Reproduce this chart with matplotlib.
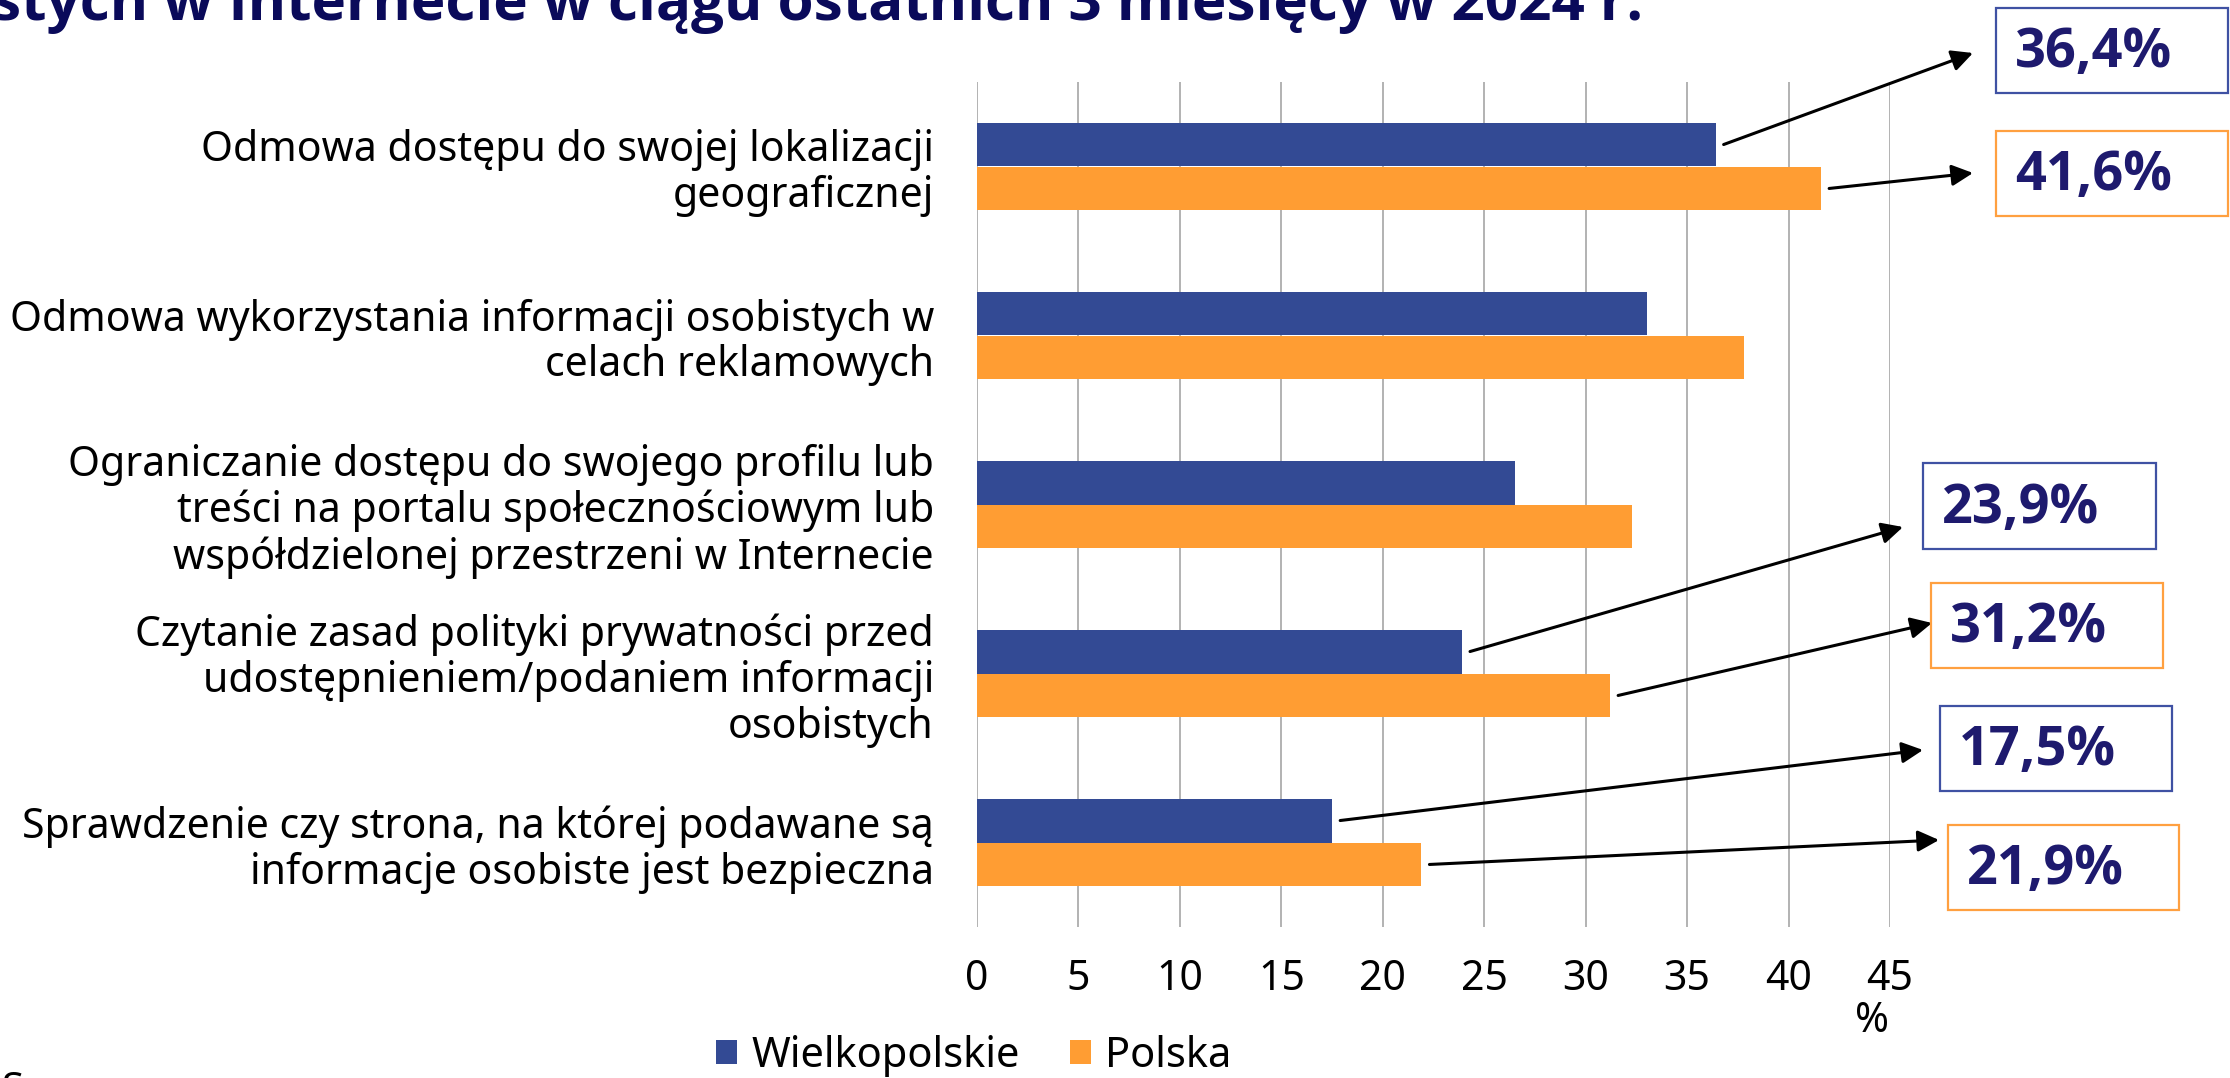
import matplotlib
matplotlib.use('Agg')
import matplotlib.pyplot as plt
from matplotlib.patches import Patch, Rectangle

plt.rcParams['font.family'] = ['Noto Sans', 'DejaVu Sans']
BOLD_FONT = ['Open Sans', 'DejaVu Sans']

categories = [
    'Odmowa dostępu do swojej lokalizacji\ngeograficznej',
    'Odmowa wykorzystania informacji osobistych w\ncelach reklamowych',
    'Ograniczanie dostępu do swojego profilu lub\ntreści na portalu społecznościowym lub\nwspółdzielonej przestrzeni w Internecie',
    'Czytanie zasad polityki prywatności przed\nudostępnieniem/podaniem informacji\nosobistych',
    'Sprawdzenie czy strona, na której podawane są\ninformacje osobiste jest bezpieczna',
]
wielkopolskie = [36.4, 33.0, 26.5, 23.9, 17.5]
polska = [41.6, 37.8, 32.3, 31.2, 21.9]
x_ticks = [0, 5, 10, 15, 20, 25, 30, 35, 40, 45]
series_names = ['Wielkopolskie', 'Polska']

BLUE = '#334A94'
ORANGE = '#FF9D33'
NAVY = '#1E1A6E'

W, H = 2230, 1078
fig = plt.figure(figsize=(W / 100, H / 100), dpi=100)
ax = fig.add_axes([977 / W, 1 - 927 / H, 913 / W, 845 / H])

bh = 0.26
ypos = list(range(len(categories)))
y_w = [y - bh / 2 for y in ypos]
y_p = [y + bh / 2 for y in ypos]
ax.barh(y_w, wielkopolskie, height=bh, color=BLUE, zorder=3)
ax.barh(y_p, polska, height=bh, color=ORANGE, zorder=3)

ax.set_xlim(0, 45)
ax.set_ylim(len(categories) - 0.5, -0.5)
ax.set_xticks(x_ticks)
ax.set_xticklabels([str(t) for t in x_ticks])
ax.set_yticks(ypos)
ax.set_yticklabels(categories, linespacing=1.12)
ax.tick_params(axis='x', length=0, pad=22, labelsize=29.5)
ax.tick_params(axis='y', length=0, pad=31, labelsize=29.5)
ax.grid(axis='x', color='#A6A6A6', lw=1.2, zorder=0)
for s in ax.spines.values():
    s.set_visible(False)

fig.text(1872 / W, 1 - 1021 / H, '%', fontsize=29.5, ha='center', va='center')

# callouts: (category, series, arrow tip px, box px left/top/right/bottom)
callouts = [
    (0, 0, (1973, 53), (1996, 8, 2228, 93)),
    (0, 1, (1973, 173), (1996, 131, 2228, 216)),
    (3, 0, (1903, 527), (1923, 463, 2156, 549)),
    (3, 1, (1932, 623), (1931, 583, 2163, 668)),
    (4, 0, (1923, 750), (1940, 706, 2172, 791)),
    (4, 1, (1939, 840), (1948, 825, 2179, 910)),
]
for ci, si, tip, box in callouts:
    val = [wielkopolskie, polska][si][ci]
    yb = [y_w, y_p][si][ci]
    ax.annotate('', xy=(tip[0], H - tip[1]), xycoords='figure pixels',
                xytext=(val + 0.4, yb), textcoords='data',
                arrowprops=dict(arrowstyle='-|>', color='black', lw=2.2,
                                mutation_scale=32, shrinkA=0, shrinkB=0),
                annotation_clip=False)
    x0, y0, x1, y1 = box
    fig.patches.append(Rectangle((x0 / W, 1 - y1 / H), (x1 - x0) / W, (y1 - y0) / H,
                                 transform=fig.transFigure, fill=False,
                                 edgecolor=['#3F51A3', '#FFA040'][si], lw=1.6))
    label = f'{val:.1f}'.replace('.', ',') + '%'
    fig.text((x0 + 19) / W, 1 - (y1 - 26) / H, label, fontsize=39,
             family=BOLD_FONT, fontweight='bold', color=NAVY, ha='left', va='baseline')

# title (cut by the top edge) and source line (cut by the bottom edge)
fig.text(-8 / W, 1 - 20 / H, 'stych w Internecie w ciągu ostatnich 3 miesięcy w 2024 r.',
         fontsize=42, family=BOLD_FONT, fontweight='bold', color='#0A0A5A',
         ha='left', va='baseline')
fig.text(2 / W, 1 - 1071 / H, 'S', fontsize=29, ha='left', va='top')

handles = [Patch(facecolor=BLUE), Patch(facecolor=ORANGE)]
fig.legend(handles, series_names, loc='center', bbox_to_anchor=(974 / W, 1 - 1056 / H),
           ncol=2, frameon=False, fontsize=30, handlelength=0.5, handleheight=0.5,
           handletextpad=0.35, columnspacing=1.2, borderaxespad=0, borderpad=0)

fig.savefig('out.png', dpi=100)
